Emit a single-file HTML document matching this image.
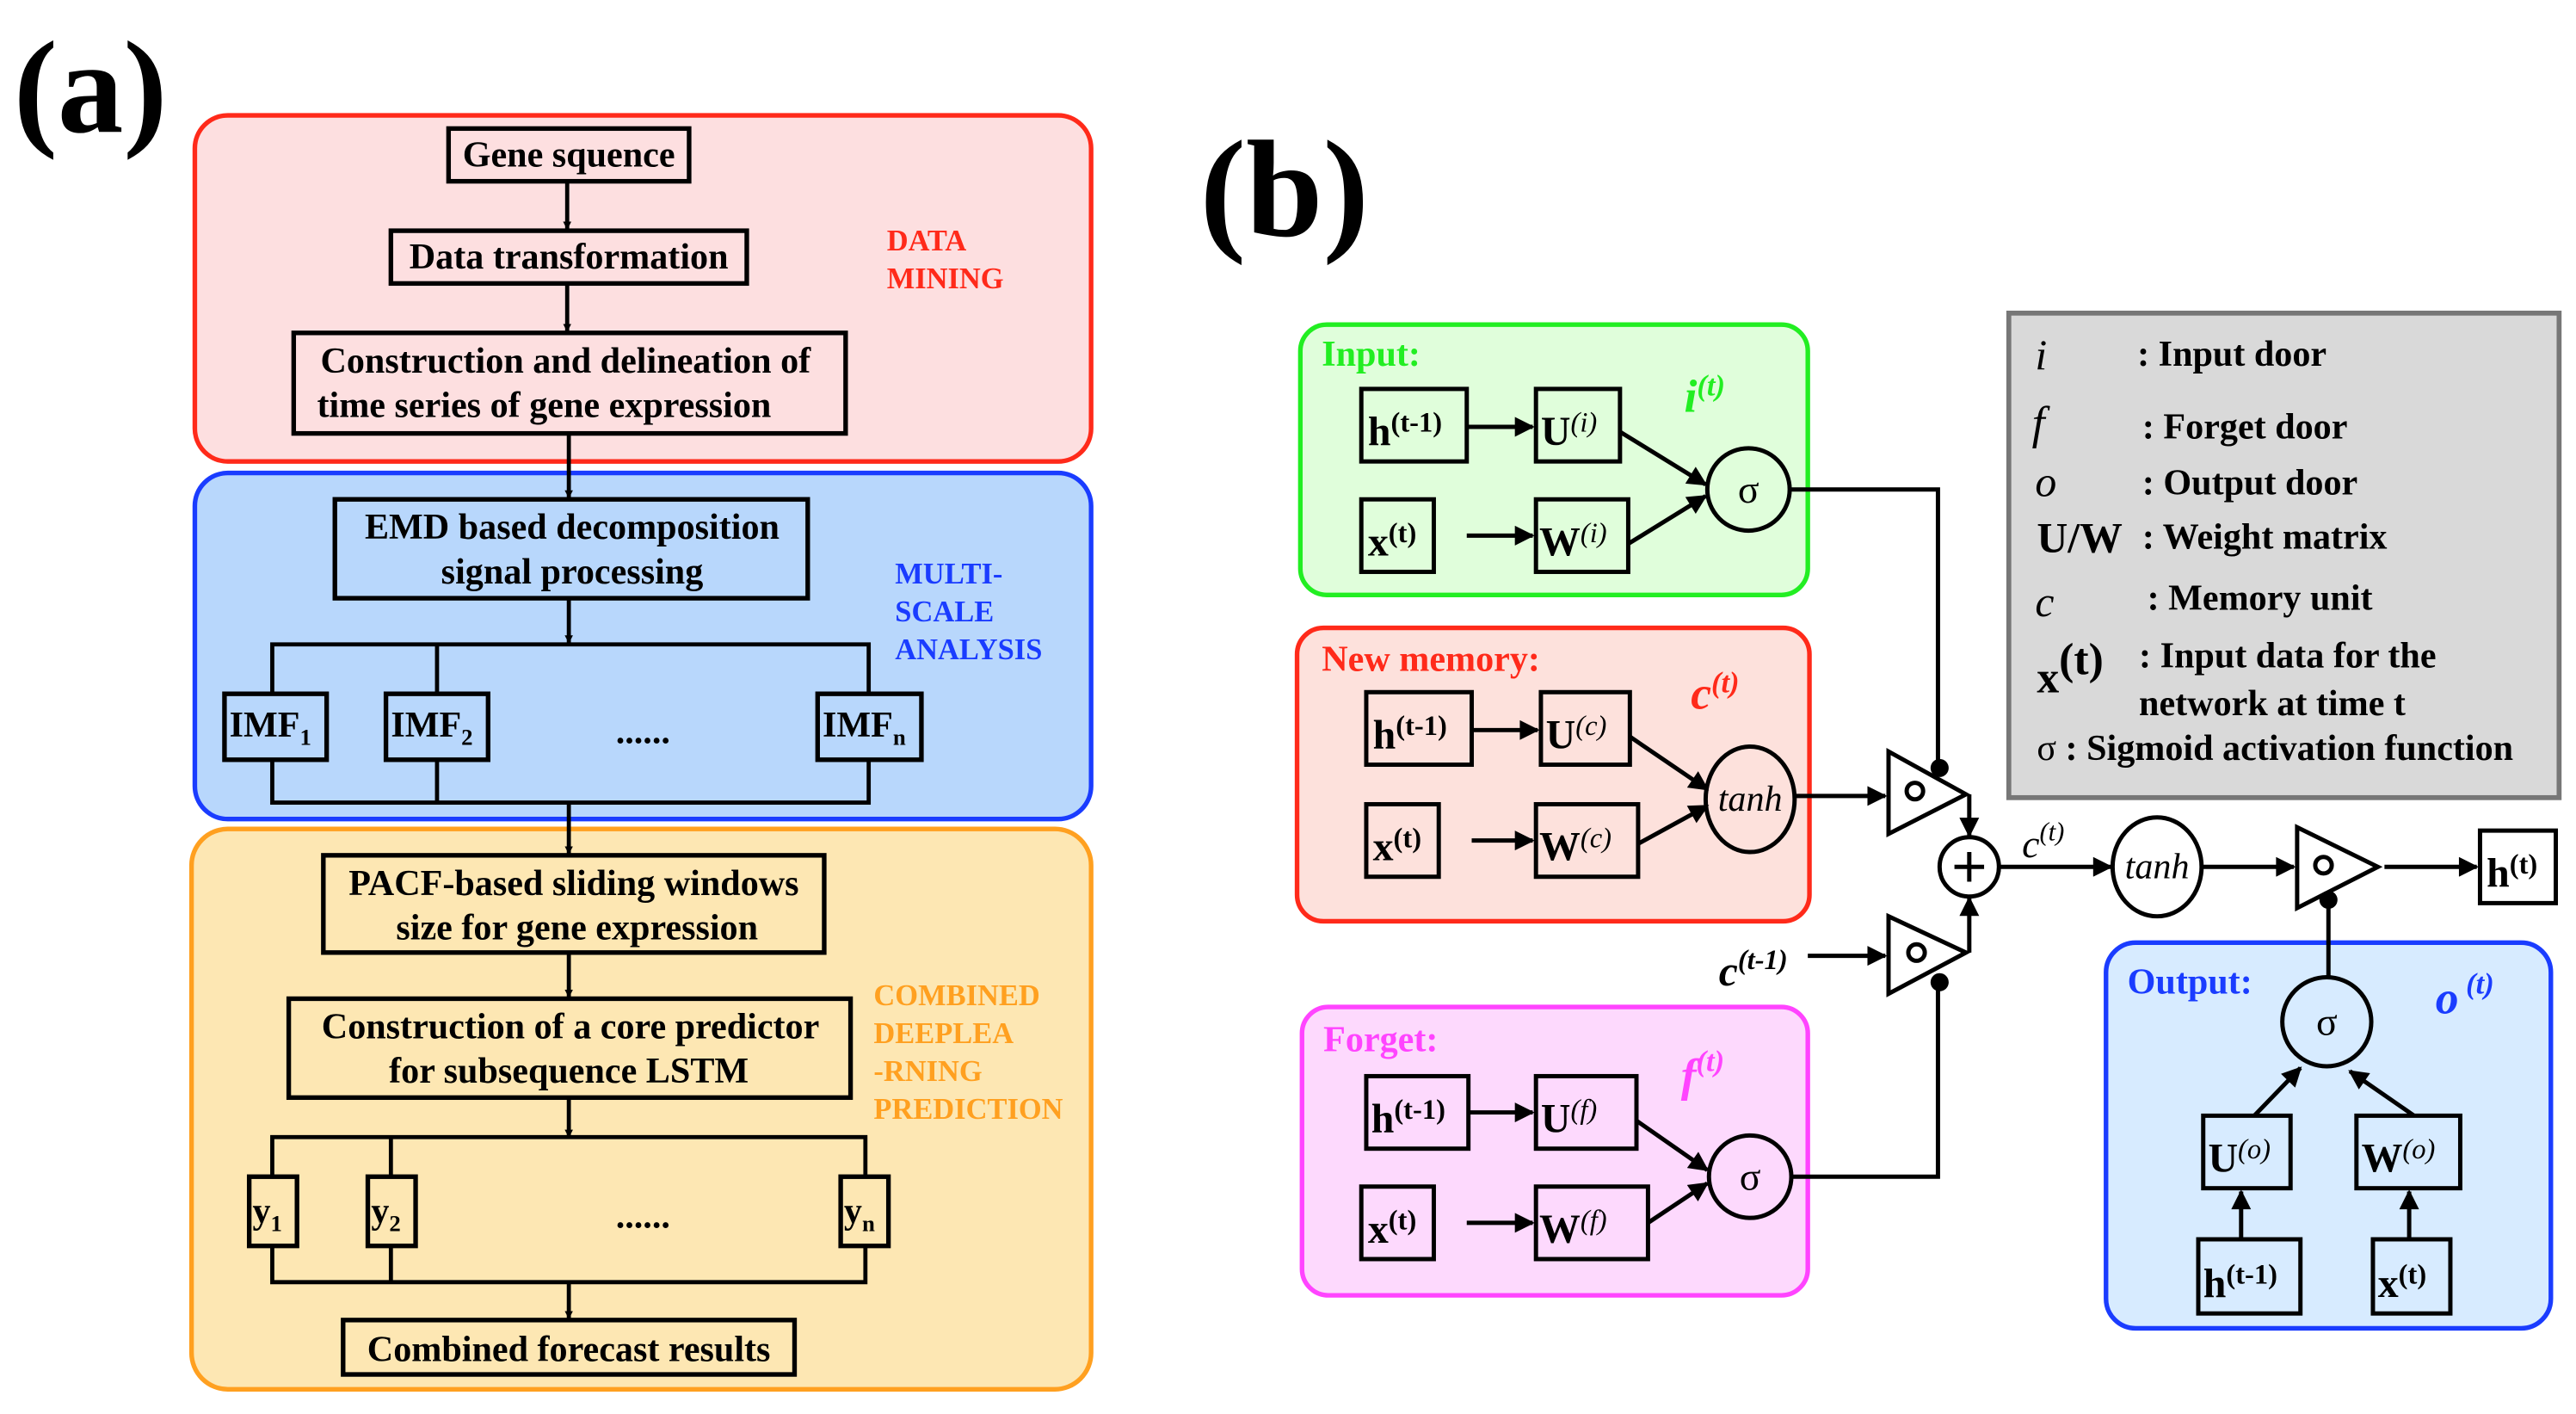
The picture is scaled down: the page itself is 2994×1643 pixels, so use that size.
<!DOCTYPE html>
<html><head><meta charset="utf-8"><style>
html,body{margin:0;padding:0;background:#fff}
svg{display:block}
svg text, svg tspan{font-family:"Liberation Serif","Times New Roman",serif !important}
</style></head><body>
<svg width="2994" height="1643" viewBox="0 0 1563 858" xmlns="http://www.w3.org/2000/svg" font-family="Liberation Serif, Times New Roman, serif" font-weight="bold">
<defs>
<marker id="ar" viewBox="0 0 10 10" refX="9" refY="5" markerWidth="5" markerHeight="6" orient="auto" markerUnits="userSpaceOnUse">
<path d="M0,0 L10,5 L0,10 z" fill="#000"/></marker>
<marker id="ab" viewBox="0 0 10 10" refX="9" refY="5" markerWidth="14" markerHeight="12" orient="auto" markerUnits="userSpaceOnUse">
<path d="M0,0 L10,5 L0,10 z" fill="#000"/></marker>
</defs>
<g stroke="#000" stroke-width="2.8" fill="none">
<rect x="118" y="70" width="544" height="210" rx="20" fill="#fddfe0" stroke="#ff2a1a"/>
<rect x="118" y="287" width="544" height="210" rx="20" fill="#b8d7fc" stroke="#1a3cff"/>
<rect x="116" y="503" width="546" height="340" rx="22" fill="#fde7b3" stroke="#ffa020"/>
<rect x="272" y="78" width="146" height="32"/>
<rect x="237" y="140" width="216" height="32"/>
<rect x="178" y="202" width="335" height="61"/>
<rect x="203" y="303" width="287" height="60"/>
<rect x="136" y="421" width="62" height="40"/>
<rect x="234" y="421" width="62" height="40"/>
<rect x="496" y="421" width="63" height="40"/>
<rect x="196" y="519" width="304" height="59"/>
<rect x="175" y="606" width="341" height="60"/>
<rect x="151" y="714" width="29" height="42"/>
<rect x="223" y="714" width="29" height="42"/>
<rect x="510" y="714" width="29" height="42"/>
<rect x="208" y="801" width="274" height="33"/>
</g>
<g stroke="#000" stroke-width="2.5" fill="none">
<line x1="344" y1="110" x2="344" y2="139" marker-end="url(#ar)"/>
<line x1="344" y1="172" x2="344" y2="201" marker-end="url(#ar)"/>
<line x1="345" y1="263" x2="345" y2="302" marker-end="url(#ar)"/>
<line x1="345" y1="363" x2="345" y2="390" marker-end="url(#ar)"/>
<polyline points="165,421 165,391 527,391 527,421"/>
<line x1="265" y1="391" x2="265" y2="421"/>
<polyline points="165,461 165,487 527,487 527,461"/>
<line x1="265" y1="461" x2="265" y2="487"/>
<line x1="345" y1="487" x2="345" y2="518" marker-end="url(#ar)"/>
<line x1="345" y1="578" x2="345" y2="605" marker-end="url(#ar)"/>
<line x1="345" y1="666" x2="345" y2="690" marker-end="url(#ar)"/>
<polyline points="165,714 165,690 525,690 525,714"/>
<line x1="237" y1="690" x2="237" y2="714"/>
<polyline points="165,756 165,778 525,778 525,756"/>
<line x1="237" y1="756" x2="237" y2="778"/>
<line x1="345" y1="778" x2="345" y2="800" marker-end="url(#ar)"/>
</g>
<text x="8" y="80" font-size="80">(a)</text>
<g font-size="22" text-anchor="middle">
<text x="345" y="101">Gene squence</text>
<text x="345" y="163">Data transformation</text>
<text x="343" y="226">Construction and delineation of</text>
<text x="330" y="253">time series of gene expression</text>
<text x="347" y="327">EMD based decomposition</text>
<text x="347" y="354">signal processing</text>
<text x="348" y="543">PACF-based sliding windows</text>
<text x="350" y="570">size for gene expression</text>
<text x="346" y="630">Construction of a core predictor</text>
<text x="345" y="657">for subsequence LSTM</text>
<text x="345" y="826">Combined forecast results</text>
<text x="390" y="451">......</text>
<text x="390" y="745">......</text>
</g>
<g font-size="22">
<text x="139" y="447">IMF<tspan font-size="14" dy="5">1</tspan></text>
<text x="237" y="447">IMF<tspan font-size="14" dy="5">2</tspan></text>
<text x="499" y="447">IMF<tspan font-size="14" dy="5">n</tspan></text>
<text x="153" y="742">y<tspan font-size="14" dy="5">1</tspan></text>
<text x="225" y="742">y<tspan font-size="14" dy="5">2</tspan></text>
<text x="512" y="742">y<tspan font-size="14" dy="5">n</tspan></text>
</g>
<g font-size="18">
<text x="538" y="152" fill="#ff2a1a">DATA</text>
<text x="538" y="175" fill="#ff2a1a">MINING</text>
<text x="543" y="354" fill="#1a3cff">MULTI-</text>
<text x="543" y="377" fill="#1a3cff">SCALE</text>
<text x="543" y="400" fill="#1a3cff">ANALYSIS</text>
<text x="530" y="610" fill="#ffa020">COMBINED</text>
<text x="530" y="633" fill="#ffa020">DEEPLEA</text>
<text x="530" y="656" fill="#ffa020">-RNING</text>
<text x="530" y="679" fill="#ffa020">PREDICTION</text>
</g>
<text x="728" y="143" font-size="84">(b)</text>
<rect x="1219" y="190" width="334" height="294" fill="#d9d9d9" stroke="#777" stroke-width="3"/>
<g stroke-width="2.8" fill="none">
<rect x="789" y="197" width="308" height="164" rx="16" fill="#e0fedb" stroke="#22ee22"/>
<rect x="787" y="381" width="311" height="178" rx="16" fill="#fde1dc" stroke="#ff2a1a"/>
<rect x="790" y="611" width="307" height="175" rx="16" fill="#fdd9fd" stroke="#ff44ff"/>
<rect x="1278" y="572" width="270" height="234" rx="18" fill="#d7ebff" stroke="#1a3cff"/>
</g>
<g stroke="#000" stroke-width="2.6" fill="none">
<rect x="826" y="236" width="64" height="44"/><rect x="932" y="236" width="51" height="44"/>
<rect x="826" y="303" width="44" height="44"/><rect x="932" y="303" width="56" height="44"/>
<rect x="829" y="420" width="64" height="44"/><rect x="935" y="420" width="54" height="44"/>
<rect x="829" y="488" width="44" height="44"/><rect x="932" y="488" width="62" height="44"/>
<rect x="829" y="653" width="62" height="44"/><rect x="932" y="653" width="61" height="44"/>
<rect x="826" y="720" width="44" height="44"/><rect x="932" y="720" width="68" height="44"/>
<rect x="1337" y="677" width="53" height="44"/><rect x="1430" y="677" width="63" height="44"/>
<rect x="1334" y="752" width="62" height="45"/><rect x="1440" y="752" width="47" height="45"/>
<rect x="1505" y="504" width="46" height="44"/>
<circle cx="1061" cy="297" r="25"/>
<ellipse cx="1062" cy="485" rx="27" ry="32"/>
<circle cx="1062" cy="714" r="25"/>
<circle cx="1195" cy="526" r="18"/>
<ellipse cx="1309" cy="526" rx="27" ry="30"/>
<circle cx="1412" cy="620" r="27"/>
<polygon points="1146,456 1146,506 1193,482" fill="#fff"/>
<polygon points="1146,556 1146,603 1193,578" fill="#fff"/>
<polygon points="1394,502 1394,551 1443,526" fill="#fff"/>
<circle cx="1162" cy="480" r="5"/><circle cx="1163" cy="578" r="5"/><circle cx="1410" cy="525" r="5"/>
<line x1="1186" y1="526" x2="1204" y2="526"/><line x1="1195" y1="517" x2="1195" y2="535"/>
<line x1="891" y1="259" x2="930" y2="259" marker-end="url(#ab)"/>
<line x1="890" y1="325" x2="930" y2="325" marker-end="url(#ab)"/>
<line x1="983" y1="262" x2="1035" y2="294" marker-end="url(#ab)"/>
<line x1="988" y1="330" x2="1035" y2="301" marker-end="url(#ab)"/>
<line x1="893" y1="443" x2="933" y2="443" marker-end="url(#ab)"/>
<line x1="893" y1="510" x2="930" y2="510" marker-end="url(#ab)"/>
<line x1="989" y1="447" x2="1036" y2="479" marker-end="url(#ab)"/>
<line x1="994" y1="512" x2="1036" y2="489" marker-end="url(#ab)"/>
<line x1="891" y1="675" x2="930" y2="675" marker-end="url(#ab)"/>
<line x1="890" y1="742" x2="930" y2="742" marker-end="url(#ab)"/>
<line x1="993" y1="680" x2="1036" y2="710" marker-end="url(#ab)"/>
<line x1="1000" y1="742" x2="1036" y2="718" marker-end="url(#ab)"/>
<polyline points="1086,297 1176,297 1176,466"/>
<polyline points="1087,714 1176,714 1176,596"/>
<line x1="1089" y1="483" x2="1144" y2="483" marker-end="url(#ab)"/>
<line x1="1097" y1="580" x2="1144" y2="580" marker-end="url(#ab)"/>
<line x1="1195" y1="482" x2="1195" y2="507" marker-end="url(#ab)"/>
<line x1="1195" y1="578" x2="1195" y2="545" marker-end="url(#ab)"/>
<line x1="1213" y1="526" x2="1281" y2="526" marker-end="url(#ab)"/>
<line x1="1336" y1="526" x2="1392" y2="526" marker-end="url(#ab)"/>
<line x1="1447" y1="526" x2="1503" y2="526" marker-end="url(#ab)"/>
<line x1="1413" y1="593" x2="1413" y2="546"/>
<line x1="1360" y1="752" x2="1360" y2="723" marker-end="url(#ab)"/>
<line x1="1462" y1="752" x2="1462" y2="723" marker-end="url(#ab)"/>
<line x1="1368" y1="677" x2="1396" y2="648" marker-end="url(#ab)"/>
<line x1="1465" y1="677" x2="1426" y2="650" marker-end="url(#ab)"/>
</g>
<g fill="#000"><circle cx="1177" cy="466" r="5.5"/><circle cx="1177" cy="596" r="5.5"/><circle cx="1413" cy="546" r="5.5"/></g>
<g font-size="22">
<text x="802" y="222" fill="#22ee22">Input:</text>
<text x="802" y="407" fill="#ff2a1a">New memory:</text>
<text x="803" y="638" fill="#ff44ff">Forget:</text>
<text x="1291" y="603" fill="#1a3cff">Output:</text>
<text x="1022" y="250" fill="#22ee22" font-style="italic" font-size="28">i<tspan font-size="18" dy="-10">(t)</tspan></text>
<text x="1026" y="430" fill="#ff2a1a" font-style="italic" font-size="28">c<tspan font-size="18" dy="-10">(t)</tspan></text>
<text x="1020" y="662" fill="#ff44ff" font-style="italic" font-size="28">f<tspan font-size="18" dy="-12">(t)</tspan></text>
<text x="1478" y="615" fill="#1a3cff" font-style="italic" font-size="28">o<tspan font-size="18" dy="-12"> (t)</tspan></text>
<g font-size="25">
<text x="830" y="270">h<tspan font-size="17" dy="-8">(t-1)</tspan></text>
<text x="830" y="337">x<tspan font-size="17" dy="-8">(t)</tspan></text>
<text x="935" y="270">U<tspan font-size="17" dy="-8" font-style="italic" font-weight="normal">(i)</tspan></text>
<text x="934" y="337">W<tspan font-size="17" dy="-8" font-style="italic" font-weight="normal">(i)</tspan></text>
<text x="833" y="454">h<tspan font-size="17" dy="-8">(t-1)</tspan></text>
<text x="833" y="522">x<tspan font-size="17" dy="-8">(t)</tspan></text>
<text x="938" y="454">U<tspan font-size="17" dy="-8" font-style="italic" font-weight="normal">(c)</tspan></text>
<text x="934" y="522">W<tspan font-size="17" dy="-8" font-style="italic" font-weight="normal">(c)</tspan></text>
<text x="832" y="687">h<tspan font-size="17" dy="-8">(t-1)</tspan></text>
<text x="830" y="754">x<tspan font-size="17" dy="-8">(t)</tspan></text>
<text x="935" y="687">U<tspan font-size="17" dy="-8" font-style="italic" font-weight="normal">(f)</tspan></text>
<text x="934" y="754">W<tspan font-size="17" dy="-8" font-style="italic" font-weight="normal">(f)</tspan></text>
<text x="1340" y="711">U<tspan font-size="17" dy="-8" font-style="italic" font-weight="normal">(o)</tspan></text>
<text x="1433" y="711">W<tspan font-size="17" dy="-8" font-style="italic" font-weight="normal">(o)</tspan></text>
<text x="1337" y="787">h<tspan font-size="17" dy="-8">(t-1)</tspan></text>
<text x="1443" y="787">x<tspan font-size="17" dy="-8">(t)</tspan></text>
<text x="1509" y="538">h<tspan font-size="17" dy="-8">(t)</tspan></text>
</g>
<g text-anchor="middle" font-weight="normal">
<text x="1061" y="305" font-size="24">σ</text>
<text x="1062" y="722" font-size="24">σ</text>
<text x="1412" y="628" font-size="24">σ</text>
<text x="1062" y="492" font-size="22" font-style="italic">tanh</text>
<text x="1309" y="533" font-size="22" font-style="italic">tanh</text>
</g>
<text x="1043" y="598" font-style="italic" font-size="26">c<tspan font-size="17" dy="-10">(t-1)</tspan></text>
<text x="1227" y="520" font-style="italic" font-size="24" font-weight="normal">c<tspan font-size="16" dy="-10">(t)</tspan></text>
</g>
<g font-size="22">
<text x="1235" y="224" font-style="italic" font-size="26" font-weight="normal">i</text>
<text x="1297" y="222">: Input door</text>
<text x="1233" y="266" font-style="italic" font-size="28" font-weight="normal">f</text>
<text x="1300" y="266">: Forget door</text>
<text x="1235" y="301" font-style="italic" font-size="26" font-weight="normal">o</text>
<text x="1300" y="300">: Output door</text>
<text x="1236" y="335" font-size="26">U/W</text>
<text x="1300" y="333">: Weight matrix</text>
<text x="1235" y="374" font-style="italic" font-size="26" font-weight="normal">c</text>
<text x="1303" y="370">: Memory unit</text>
<text x="1236" y="420" font-size="27">x<tspan dy="-11">(t)</tspan></text>
<text x="1298" y="405">: Input data for the</text>
<text x="1298" y="434">network at time t</text>
<text x="1236" y="461"><tspan font-weight="normal">σ</tspan> : Sigmoid activation function</text>
</g>
</svg>
</body></html>
